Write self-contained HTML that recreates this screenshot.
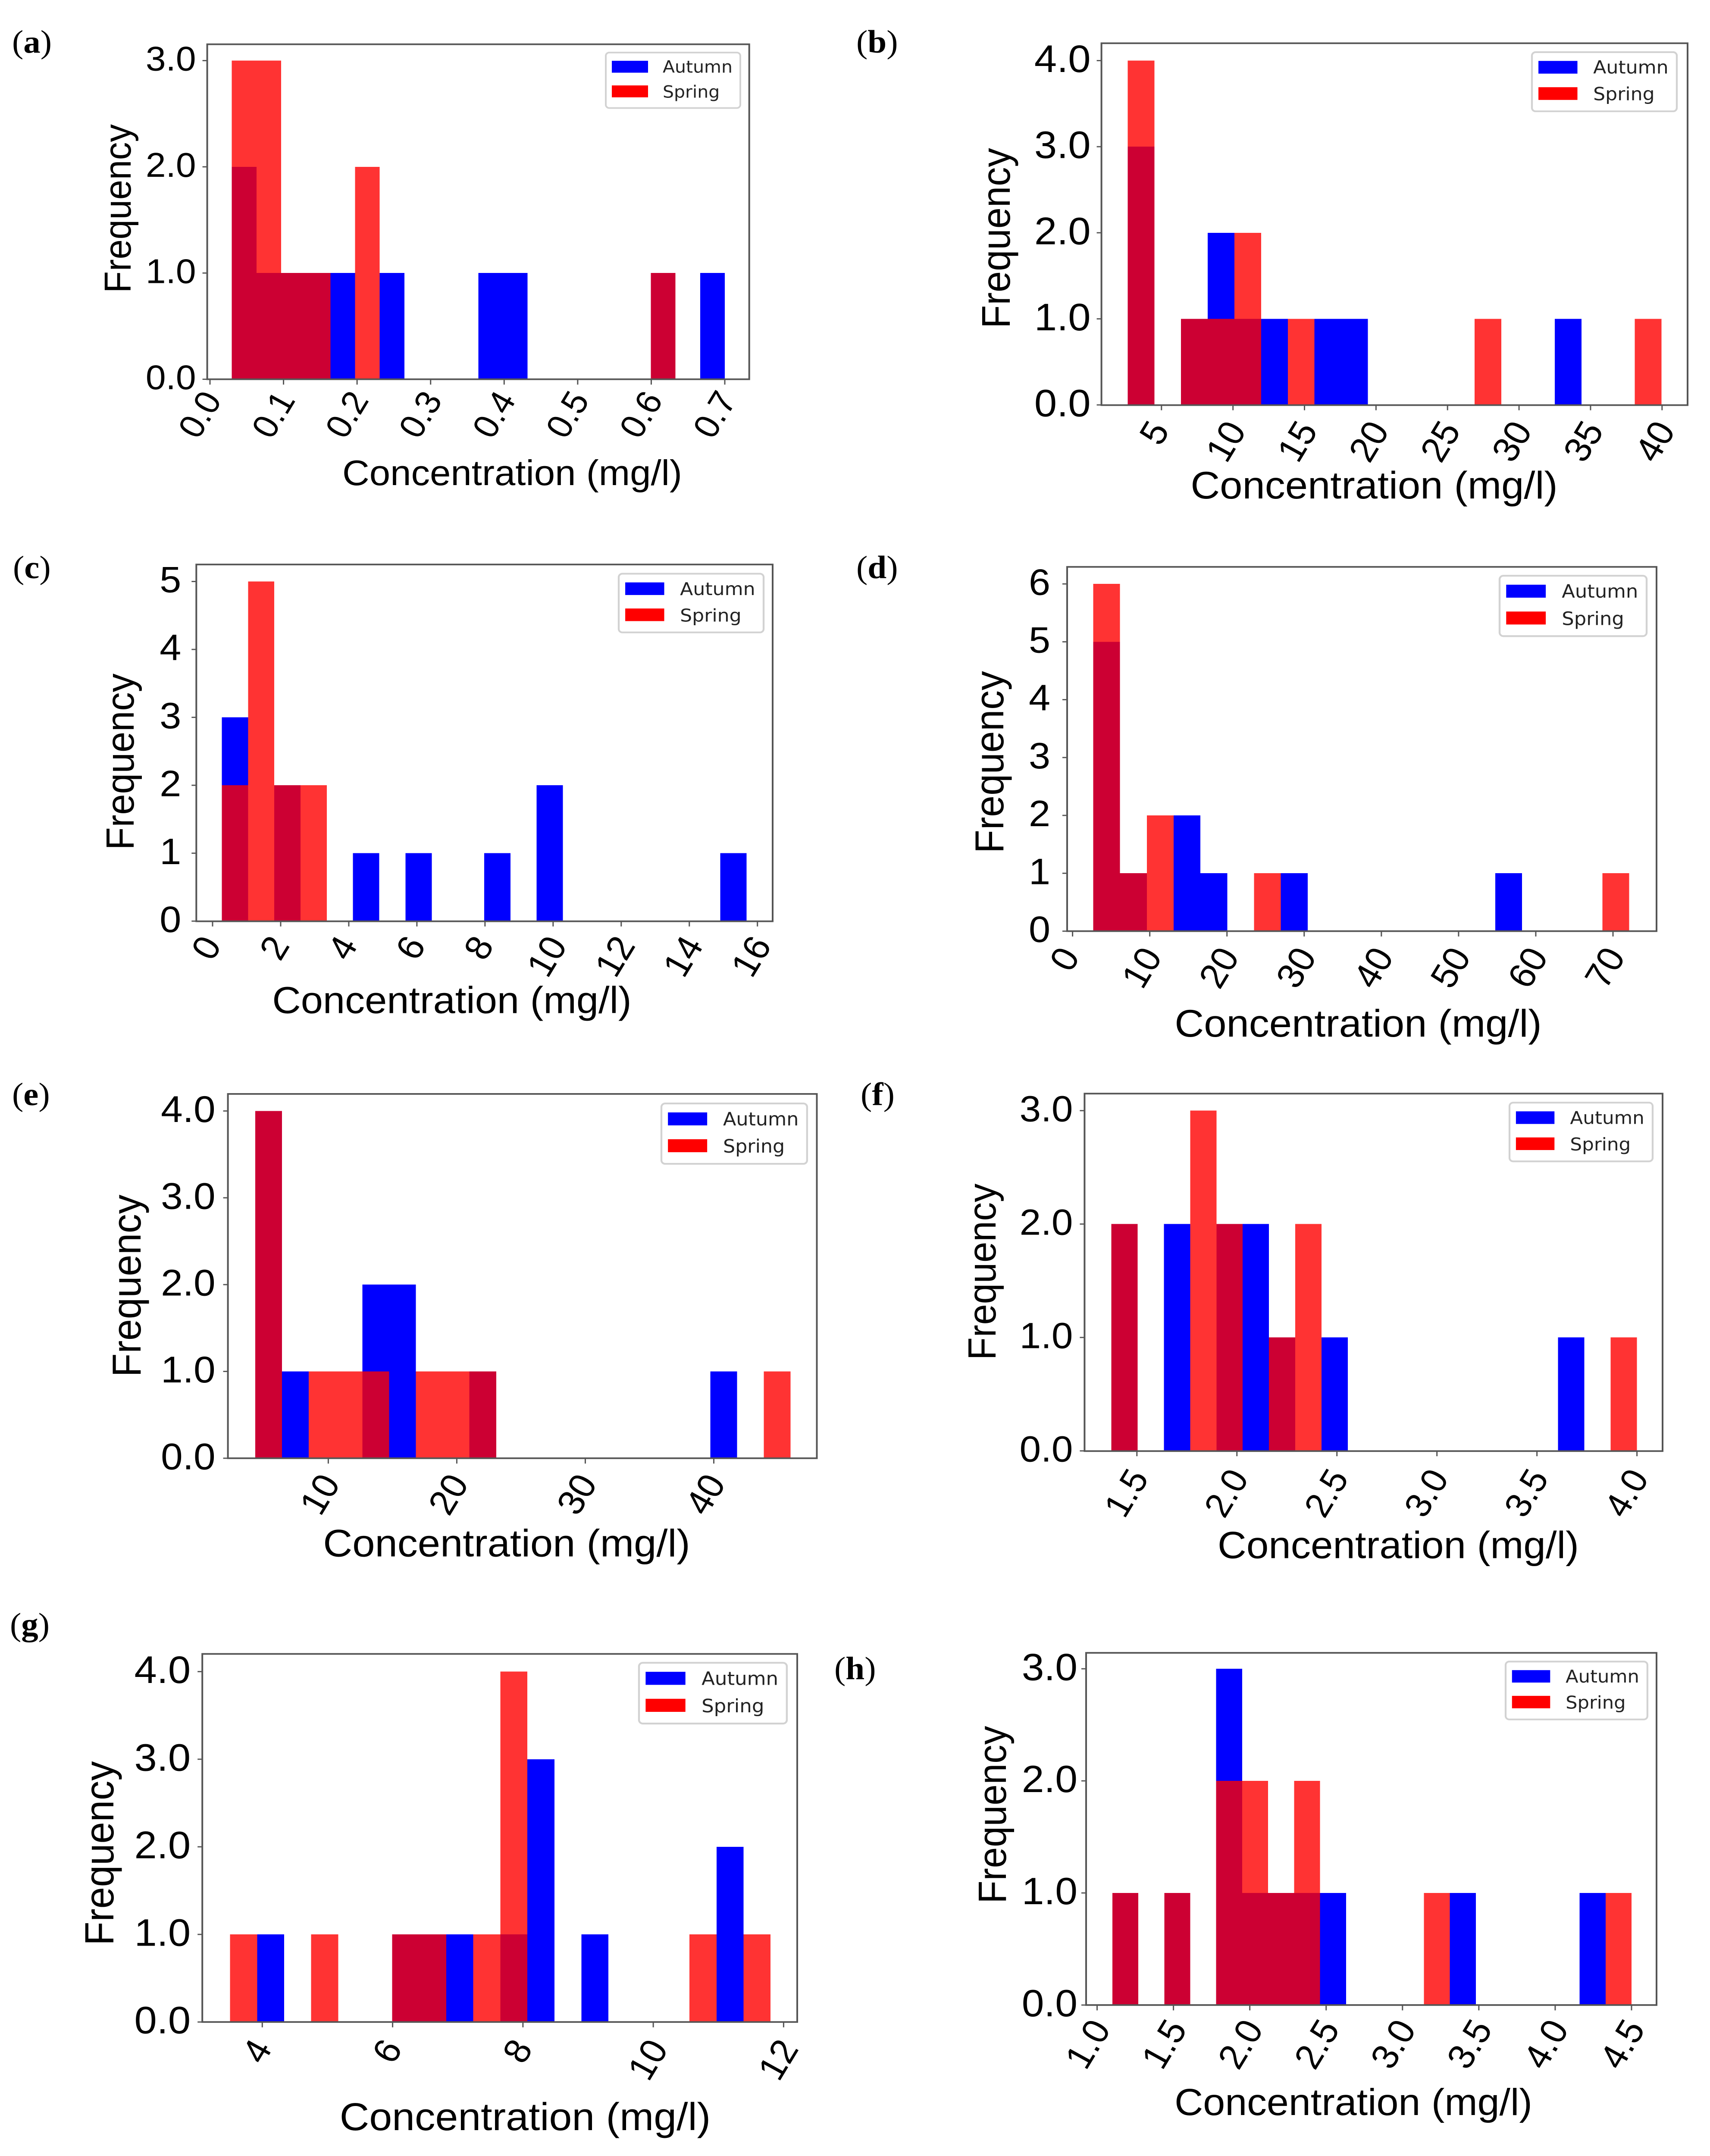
<!DOCTYPE html>
<html lang="en">
<head>
<meta charset="utf-8">
<title>Concentration frequency histograms</title>
<style>
html,body{margin:0;padding:0;background:#fff;width:100%;height:100%;overflow:hidden;}
svg#figure{display:block;width:100vw;height:100vh;}
.tag{font-family:"Liberation Serif",serif;font-size:79px;fill:#000;}
.tag tspan{font-weight:bold;}
.axis-title{font-family:"Liberation Sans",sans-serif;fill:#000;}
.frame{fill:none;stroke:#555;stroke-width:4;}
.leg-box{fill:#fff;stroke:#d2d2d2;stroke-width:4;}
.leg-text{font-family:"DejaVu Sans",sans-serif;font-size:41px;fill:#222;}
</style>
</head>
<body>
<svg id="figure" xmlns="http://www.w3.org/2000/svg" viewBox="0 0 3966 5250" preserveAspectRatio="none">
<rect width="3966" height="5250" fill="#fff"/>

<defs>
<g id="legend-shape">
<rect class="leg-box" x="0" y="0" width="312" height="135" rx="8"/>
<rect x="14" y="20" width="84" height="29" fill="#0000ff"/>
<rect x="14" y="80" width="84" height="29" fill="#ff0000"/>
</g>
</defs>

<!-- panel a -->
<g id="panel-a">
<text class="tag" x="28" y="128">(<tspan>a</tspan>)</text>
<g class="marks"></g>
<rect class="frame" x="480.6" y="107.8" width="1257.1" height="815.7"/>
<g class="axes"></g>
<text class="axis-title" x="1188" y="1181" font-size="87" text-anchor="middle">Concentration (mg/l)</text>
<text class="axis-title" transform="translate(303,508) rotate(-90)" font-size="87" text-anchor="middle">Frequency</text>
<g transform="translate(1405,128) scale(1,1)">
<use href="#legend-shape"/>
<text class="leg-text" x="132" y="49">Autumn</text>
<text class="leg-text" x="132" y="110">Spring</text>
</g>
</g>

<!-- panel b -->
<g id="panel-b">
<text class="tag" x="1986" y="128">(<tspan>b</tspan>)</text>
<g class="marks"></g>
<rect class="frame" x="2554.6" y="105.3" width="1359.4" height="881.2"/>
<g class="axes"></g>
<text class="axis-title" x="3187" y="1214" font-size="94" text-anchor="middle">Concentration (mg/l)</text>
<text class="axis-title" transform="translate(2342,580) rotate(-90)" font-size="93" text-anchor="middle">Frequency</text>
<g transform="translate(3553,127) scale(1.077,1.067)">
<use href="#legend-shape"/>
<text class="leg-text" x="132" y="49">Autumn</text>
<text class="leg-text" x="132" y="110">Spring</text>
</g>
</g>

<!-- panel c -->
<g id="panel-c">
<text class="tag" x="30" y="1408">(<tspan font-weight="normal">c</tspan>)</text>
<g class="marks"></g>
<rect class="frame" x="455.3" y="1374.6" width="1336.7" height="868.8"/>
<g class="axes"></g>
<text class="axis-title" x="1048" y="2467" font-size="92" text-anchor="middle">Concentration (mg/l)</text>
<text class="axis-title" transform="translate(310,1855) rotate(-90)" font-size="91" text-anchor="middle">Frequency</text>
<g transform="translate(1435,1397) scale(1.077,1.059)">
<use href="#legend-shape"/>
<text class="leg-text" x="132" y="49">Autumn</text>
<text class="leg-text" x="132" y="110">Spring</text>
</g>
</g>

<!-- panel d -->
<g id="panel-d">
<text class="tag" x="1986" y="1408">(<tspan>d</tspan>)</text>
<g class="marks"></g>
<rect class="frame" x="2475" y="1380.4" width="1367" height="887"/>
<g class="axes"></g>
<text class="axis-title" x="3150" y="2524" font-size="94" text-anchor="middle">Concentration (mg/l)</text>
<text class="axis-title" transform="translate(2327,1856) rotate(-90)" font-size="94" text-anchor="middle">Frequency</text>
<g transform="translate(3478,1402) scale(1.093,1.089)">
<use href="#legend-shape"/>
<text class="leg-text" x="132" y="49">Autumn</text>
<text class="leg-text" x="132" y="110">Spring</text>
</g>
</g>

<!-- panel e -->
<g id="panel-e">
<text class="tag" x="28" y="2691">(<tspan font-weight="normal">e</tspan>)</text>
<g class="marks"></g>
<rect class="frame" x="528.6" y="2663.8" width="1365.9" height="887.1"/>
<g class="axes"></g>
<text class="axis-title" x="1175" y="3790" font-size="94" text-anchor="middle">Concentration (mg/l)</text>
<text class="axis-title" transform="translate(326,3131) rotate(-90)" font-size="94" text-anchor="middle">Frequency</text>
<g transform="translate(1534,2687) scale(1.083,1.089)">
<use href="#legend-shape"/>
<text class="leg-text" x="132" y="49">Autumn</text>
<text class="leg-text" x="132" y="110">Spring</text>
</g>
</g>

<!-- panel f -->
<g id="panel-f">
<text class="tag" x="1996" y="2691">(<tspan font-weight="normal">f</tspan>)</text>
<g class="marks"></g>
<rect class="frame" x="2515.4" y="2663" width="1340.6" height="870.5"/>
<g class="axes"></g>
<text class="axis-title" x="3243" y="3794" font-size="92.5" text-anchor="middle">Concentration (mg/l)</text>
<text class="axis-title" transform="translate(2309,3097) rotate(-90)" font-size="91" text-anchor="middle">Frequency</text>
<g transform="translate(3501,2685) scale(1.064,1.059)">
<use href="#legend-shape"/>
<text class="leg-text" x="132" y="49">Autumn</text>
<text class="leg-text" x="132" y="110">Spring</text>
</g>
</g>

<!-- panel g -->
<g id="panel-g">
<text class="tag" x="23" y="3982">(<tspan font-weight="normal">g</tspan>)</text>
<g class="marks"></g>
<rect class="frame" x="469.2" y="4027.4" width="1379.8" height="896.3"/>
<g class="axes"></g>
<text class="axis-title" x="1218" y="5187" font-size="95" text-anchor="middle">Concentration (mg/l)</text>
<text class="axis-title" transform="translate(263,4513) rotate(-90)" font-size="95" text-anchor="middle">Frequency</text>
<g transform="translate(1482,4049) scale(1.099,1.096)">
<use href="#legend-shape"/>
<text class="leg-text" x="132" y="49">Autumn</text>
<text class="leg-text" x="132" y="110">Spring</text>
</g>
</g>

<!-- panel h -->
<g id="panel-h">
<text class="tag" x="1935" y="4089">(<tspan>h</tspan>)</text>
<g class="marks"></g>
<rect class="frame" x="2519" y="4024.8" width="1323" height="857.6"/>
<g class="axes"></g>
<text class="axis-title" x="3139" y="5150" font-size="91.6" text-anchor="middle">Concentration (mg/l)</text>
<text class="axis-title" transform="translate(2333,4419) rotate(-90)" font-size="91.6" text-anchor="middle">Frequency</text>
<g transform="translate(3492,4046) scale(1.054,1.044)">
<use href="#legend-shape"/>
<text class="leg-text" x="132" y="49">Autumn</text>
<text class="leg-text" x="132" y="110">Spring</text>
</g>
</g>
</svg>

<script>
// ---- data: histogram counts per bin, bin ranges and tick labels ----
const aAutumn = [2,1,1,1,1,0,1,0,0,0,1,1,0,0,0,0,0,1,0,1];
const aSpring = [3,3,1,1,0,2,0,0,0,0,0,0,0,0,0,0,0,1,0,0];
const aBinRange = [0.0297,0.7];
const aXTicks = ['0.0','0.1','0.2','0.3','0.4','0.5','0.6','0.7'];
const aYTicks = ['0.0','1.0','2.0','3.0'];

const bAutumn = [3,0,1,2,1,1,0,1,1,0,0,0,0,0,0,0,1,0,0,0];
const bSpring = [4,0,1,1,2,0,1,0,0,0,0,0,0,1,0,0,0,0,0,1];
const bBinRange = [2.636,39.96];
const bXTicks = ['5','10','15','20','25','30','35','40'];
const bYTicks = ['0.0','1.0','2.0','3.0','4.0'];

const cAutumn = [3,0,2,0,0,1,0,1,0,0,1,0,2,0,0,0,0,0,0,1];
const cSpring = [2,5,2,2,0,0,0,0,0,0,0,0,0,0,0,0,0,0,0,0];
const cBinRange = [0.272,15.68];
const cXTicks = ['0','2','4','6','8','10','12','14','16'];
const cYTicks = ['0','1','2','3','4','5'];

const dAutumn = [5,1,0,2,1,0,0,1,0,0,0,0,0,0,0,1,0,0,0,0];
const dSpring = [6,1,2,0,0,0,1,0,0,0,0,0,0,0,0,0,0,0,0,1];
const dBinRange = [2.68,72.1];
const dXTicks = ['0','10','20','30','40','50','60','70'];
const dYTicks = ['0','1','2','3','4','5','6'];

const eAutumn = [4,1,0,0,2,2,0,0,1,0,0,0,0,0,0,0,0,1,0,0];
const eSpring = [4,0,1,1,1,0,1,1,1,0,0,0,0,0,0,0,0,0,0,1];
const eBinRange = [4.315,45.98];
const eXTicks = ['10','20','30','40'];
const eYTicks = ['0.0','1.0','2.0','3.0','4.0'];

const fAutumn = [2,0,2,0,2,2,1,0,1,0,0,0,0,0,0,0,0,1,0,0];
const fSpring = [2,0,0,3,2,0,1,2,0,0,0,0,0,0,0,0,0,0,0,1];
const fBinRange = [1.372,4.0];
const fXTicks = ['1.5','2.0','2.5','3.0','3.5','4.0'];
const fYTicks = ['0.0','1.0','2.0','3.0'];

const gAutumn = [0,1,0,0,0,0,1,1,1,0,1,3,0,1,0,0,0,0,2,0];
const gSpring = [1,0,0,1,0,0,1,1,0,1,4,0,0,0,0,0,0,1,0,1];
const gBinRange = [3.506,11.8];
const gXTicks = ['4','6','8','10','12'];
const gYTicks = ['0.0','1.0','2.0','3.0','4.0'];

const hAutumn = [1,0,1,0,3,1,1,1,1,0,0,0,0,1,0,0,0,0,1,0];
const hSpring = [1,0,1,0,2,2,1,2,0,0,0,0,1,0,0,0,0,0,0,1];
const hBinRange = [1.1,4.5];
const hXTicks = ['1.0','1.5','2.0','2.5','3.0','3.5','4.0','4.5'];
const hYTicks = ['0.0','1.0','2.0','3.0'];

// ---- layout: plot areas in page pixels, separate from the data ----
const layoutA = {left:480.6,bottom:923.5,xPx:[487,1681],yTopPx:147.6,ySize:84,xSize:82,gap:26,dx:-25,top:21};
const layoutB = {left:2554.6,bottom:986,xPx:[2693.8,3854.8],yTopPx:147.6,ySize:94,xSize:86,gap:25,dx:-18,top:31};
const layoutC = {left:455.3,bottom:2243,xPx:[493,1756.7],yTopPx:1416,ySize:90,xSize:86,gap:35,dx:-16,top:28};
const layoutD = {left:2475,bottom:2267.4,xPx:[2487.6,3741],yTopPx:1421.9,ySize:90,xSize:86,gap:39,dx:-20,top:31};
const layoutE = {left:528.6,bottom:3550.9,xPx:[761.4,1655.5],yTopPx:2705.3,ySize:91,xSize:86,gap:29,dx:-21,top:30};
const layoutF = {left:2515.4,bottom:3533,xPx:[2636.8,3796.6],yTopPx:2704.5,ySize:89,xSize:84,gap:27,dx:-26,top:36};
const layoutG = {left:469.2,bottom:4923.7,xPx:[608.3,1817.4],yTopPx:4070.5,ySize:94,xSize:86,gap:27,dx:-14,top:34};
const layoutH = {left:2519,bottom:4882.4,xPx:[2544.5,3784],yTopPx:4063.6,ySize:93,xSize:86,gap:20,dx:-23,top:27};

const NS = 'http://www.w3.org/2000/svg';
const LIBERATION = '"Liberation Sans", sans-serif';

function makeXScale(ticks, lay) {
  const v0 = Number(ticks[0]);
  const v1 = Number(ticks[ticks.length - 1]);
  return function (v) {
    return lay.xPx[0] + (v - v0) * (lay.xPx[1] - lay.xPx[0]) / (v1 - v0);
  };
}

function makeYScale(ticks, lay) {
  const vTop = Number(ticks[ticks.length - 1]);
  return function (v) {
    return lay.bottom - v * (lay.bottom - lay.yTopPx) / vTop;
  };
}

function drawBars(group, counts, range, xs, ys, color, opacity, seriesName) {
  const binW = (range[1] - range[0]) / counts.length;
  counts.forEach(function (c, i) {
    if (c <= 0) return;
    const r = document.createElementNS(NS, 'rect');
    
    
    const x0 = xs(range[0] + i * binW);
    const x1 = xs(range[0] + (i + 1) * binW);
    r.setAttribute('x', x0);
    r.setAttribute('width', x1 - x0);
    r.setAttribute('y', ys(c));
    r.setAttribute('height', ys(0) - ys(c));
    r.setAttribute('fill', color);
    r.setAttribute('fill-opacity', opacity);
    r.setAttribute('shape-rendering', 'crispEdges');
    group.appendChild(r);
  });
}

function drawTickLine(group, x1, y1, x2, y2, name) {
  const l = document.createElementNS(NS, 'line');
  
  
  l.setAttribute('x1', x1);
  l.setAttribute('y1', y1);
  l.setAttribute('x2', x2);
  l.setAttribute('y2', y2);
  l.setAttribute('stroke', '#555');
  l.setAttribute('stroke-width', '3');
  group.appendChild(l);
}

function drawAxes(group, xTicks, yTicks, xs, ys, lay) {
  yTicks.forEach(function (label) {
    const py = ys(Number(label));
    drawTickLine(group, lay.left - 11, py, lay.left, py, 'y-tick-mark');
    const t = document.createElementNS(NS, 'text');
    
    
    t.setAttribute('x', lay.left - lay.gap);
    t.setAttribute('y', py + 0.36 * lay.ySize - 6);
    t.setAttribute('text-anchor', 'end');
    t.setAttribute('font-size', lay.ySize);
    t.setAttribute('font-family', LIBERATION);
    t.textContent = label;
    group.appendChild(t);
  });
  const sin = Math.sin(Math.PI / 3);
  const cos = Math.cos(Math.PI / 3);
  xTicks.forEach(function (label) {
    const px = xs(Number(label));
    drawTickLine(group, px, lay.bottom, px, lay.bottom + 13, 'x-tick-mark');
    const t = document.createElementNS(NS, 'text');
    
    
    t.setAttribute('x', 0);
    t.setAttribute('y', 0.36 * lay.xSize);
    t.setAttribute('text-anchor', 'middle');
    t.setAttribute('font-size', lay.xSize);
    t.setAttribute('font-family', LIBERATION);
    t.textContent = label;
    group.appendChild(t);
    const len = t.getComputedTextLength();
    const h = len * sin + 0.72 * lay.xSize * cos;
    const cy = lay.bottom + lay.top + h / 2;
    t.setAttribute('transform', 'translate(' + (px + lay.dx) + ',' + cy + ') rotate(-60)');
  });
}

function drawPanel(id, autumn, spring, range, xTicks, yTicks, lay) {
  const panel = document.getElementById(id);
  const xs = makeXScale(xTicks, lay);
  const ys = makeYScale(yTicks, lay);
  const marks = panel.querySelector('.marks');
  drawBars(marks, autumn, range, xs, ys, '#0000ff', 1, 'autumn');
  drawBars(marks, spring, range, xs, ys, '#ff0000', 0.8, 'spring');
  drawAxes(panel.querySelector('.axes'), xTicks, yTicks, xs, ys, lay);
}

drawPanel('panel-a', aAutumn, aSpring, aBinRange, aXTicks, aYTicks, layoutA);
drawPanel('panel-b', bAutumn, bSpring, bBinRange, bXTicks, bYTicks, layoutB);
drawPanel('panel-c', cAutumn, cSpring, cBinRange, cXTicks, cYTicks, layoutC);
drawPanel('panel-d', dAutumn, dSpring, dBinRange, dXTicks, dYTicks, layoutD);
drawPanel('panel-e', eAutumn, eSpring, eBinRange, eXTicks, eYTicks, layoutE);
drawPanel('panel-f', fAutumn, fSpring, fBinRange, fXTicks, fYTicks, layoutF);
drawPanel('panel-g', gAutumn, gSpring, gBinRange, gXTicks, gYTicks, layoutG);
drawPanel('panel-h', hAutumn, hSpring, hBinRange, hXTicks, hYTicks, layoutH);
</script>
</body>
</html>
